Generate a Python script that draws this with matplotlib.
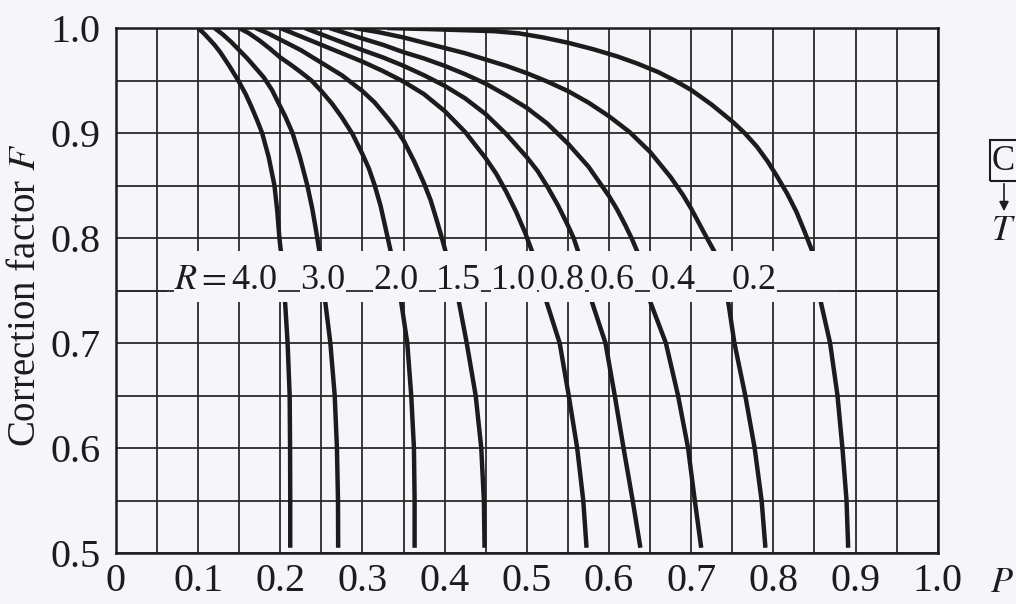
import numpy as np
import matplotlib.pyplot as plt
from matplotlib.patches import Rectangle

plt.rcParams['font.family'] = ['Liberation Serif', 'DejaVu Serif']
plt.rcParams['mathtext.fontset'] = 'stix'

# Curvas (P, F) para cada R
r_labels = ["$R=$4.0", "3.0", "2.0", "1.5", "1.0", "0.8", "0.6", "0.4", "0.2"]
label_pos = [0.197, 0.252, 0.341, 0.417, 0.484, 0.543, 0.604, 0.678, 0.777]

p_r40 = [0.100, 0.107, 0.113, 0.120, 0.127, 0.138, 0.149, 0.158, 0.165, 0.172, 0.178, 0.186, 0.193, 0.1965, 0.199, 0.201,
         0.206, 0.209, 0.2115, 0.212, 0.2122, 0.2122]
f_r40 = [1.000, 0.995, 0.990, 0.984, 0.977, 0.964, 0.950, 0.937, 0.925, 0.912, 0.900, 0.877, 0.850, 0.825, 0.800, 0.786,
         0.738, 0.700, 0.650, 0.600, 0.550, 0.505]

p_r30 = [0.120, 0.130, 0.140, 0.150, 0.160, 0.170, 0.180, 0.190, 0.197, 0.206, 0.215, 0.224, 0.233, 0.239, 0.243, 0.248,
         0.255, 0.261, 0.2663, 0.269, 0.2703, 0.2705]
f_r30 = [1.000, 0.994, 0.987, 0.979, 0.971, 0.962, 0.953, 0.941, 0.930, 0.916, 0.900, 0.877, 0.850, 0.828, 0.810, 0.786,
         0.738, 0.700, 0.650, 0.600, 0.550, 0.505]

p_r20 = [0.150, 0.162, 0.175, 0.188, 0.200, 0.213, 0.225, 0.238, 0.250, 0.263, 0.275, 0.288, 0.300, 0.308, 0.315, 0.322,
         0.328, 0.3348, 0.3474, 0.3546, 0.3594, 0.3627, 0.3635, 0.3635]
f_r20 = [1.000, 0.995, 0.988, 0.980, 0.972, 0.965, 0.958, 0.950, 0.940, 0.928, 0.915, 0.899, 0.880, 0.866, 0.850, 0.831,
         0.810, 0.786, 0.738, 0.700, 0.650, 0.600, 0.550, 0.505]

p_r15 = [0.170, 0.185, 0.200, 0.225, 0.250, 0.275, 0.300, 0.315, 0.330, 0.340, 0.350, 0.363, 0.375, 0.383, 0.390, 0.396,
         0.4016, 0.4177, 0.4269, 0.4378, 0.4446, 0.4478, 0.4486]
f_r15 = [1.000, 0.995, 0.989, 0.979, 0.967, 0.955, 0.940, 0.929, 0.915, 0.905, 0.893, 0.873, 0.852, 0.836, 0.818, 0.802,
         0.786, 0.738, 0.700, 0.650, 0.600, 0.550, 0.505]

p_r10 = [0.200, 0.225, 0.250, 0.275, 0.300, 0.325, 0.350, 0.375, 0.400, 0.425, 0.450, 0.463, 0.475, 0.487, 0.498, 0.507,
         0.5245, 0.540, 0.551, 0.5613, 0.5687, 0.5727]
f_r10 = [1.000, 0.992, 0.984, 0.976, 0.968, 0.959, 0.949, 0.937, 0.921, 0.901, 0.876, 0.861, 0.844, 0.825, 0.805, 0.786,
         0.738, 0.700, 0.650, 0.600, 0.550, 0.505]

p_r08 = [0.230, 0.250, 0.270, 0.300, 0.325, 0.350, 0.375, 0.400, 0.425, 0.450, 0.475, 0.500, 0.513, 0.525, 0.538, 0.550,
         0.557, 0.563, 0.5797, 0.5957, 0.607, 0.6177, 0.6288, 0.6382]
f_r08 = [1.000, 0.994, 0.988, 0.979, 0.972, 0.964, 0.955, 0.945, 0.933, 0.918, 0.899, 0.877, 0.864, 0.849, 0.831, 0.812,
         0.800, 0.786, 0.738, 0.700, 0.650, 0.600, 0.550, 0.505]

p_r06 = [0.260, 0.280, 0.300, 0.325, 0.350, 0.375, 0.400, 0.425, 0.450, 0.475, 0.500, 0.525, 0.550, 0.575, 0.600, 0.610,
         0.620, 0.628, 0.635, 0.6508, 0.6692, 0.684, 0.6962, 0.7044, 0.7122]
f_r06 = [1.000, 0.995, 0.990, 0.984, 0.977, 0.971, 0.964, 0.956, 0.947, 0.936, 0.924, 0.909, 0.890, 0.868, 0.840, 0.827,
         0.812, 0.799, 0.786, 0.738, 0.700, 0.650, 0.600, 0.550, 0.505]

p_r04 = [0.290, 0.320, 0.350, 0.375, 0.400, 0.425, 0.450, 0.475, 0.500, 0.525, 0.550, 0.575, 0.600, 0.625, 0.650, 0.675,
         0.690, 0.700, 0.715, 0.729, 0.7453, 0.7526, 0.7658, 0.7772, 0.7857, 0.7903]
f_r04 = [1.000, 0.996, 0.991, 0.986, 0.981, 0.976, 0.970, 0.964, 0.957, 0.949, 0.940, 0.929, 0.916, 0.901, 0.882, 0.858,
         0.841, 0.828, 0.806, 0.786, 0.738, 0.700, 0.650, 0.600, 0.550, 0.505]

p_r02 = [0.330, 0.380, 0.420, 0.460, 0.490, 0.520, 0.550, 0.580, 0.610, 0.635, 0.660, 0.680, 0.700, 0.725, 0.750, 0.765,
         0.780, 0.793, 0.805, 0.817, 0.828, 0.838, 0.848, 0.858, 0.869, 0.878, 0.884, 0.889, 0.891]
f_r02 = [1.000, 0.999, 0.998, 0.997, 0.995, 0.991, 0.986, 0.980, 0.973, 0.966, 0.958, 0.950, 0.941, 0.927, 0.911, 0.900,
         0.887, 0.873, 0.858, 0.842, 0.825, 0.806, 0.786, 0.738, 0.700, 0.650, 0.600, 0.550, 0.505]

curvas = [(p_r40, f_r40), (p_r30, f_r30), (p_r20, f_r20), (p_r15, f_r15), (p_r10, f_r10),
          (p_r08, f_r08), (p_r06, f_r06), (p_r04, f_r04), (p_r02, f_r02)]

x_ticks = [0, 0.1, 0.2, 0.3, 0.4, 0.5, 0.6, 0.7, 0.8, 0.9, 1.0]
x_ticklabels = ["0", "0.1", "0.2", "0.3", "0.4", "0.5", "0.6", "0.7", "0.8", "0.9", "1.0"]
y_ticks = [0.5, 0.6, 0.7, 0.8, 0.9, 1.0]
y_ticklabels = ["0.5", "0.6", "0.7", "0.8", "0.9", "1.0"]

fondo = '#f6f6fa'
tinta = '#1c1c1c'

fig = plt.figure(figsize=(10.16, 6.04), dpi=100, facecolor=fondo)
ax = fig.add_axes([0.114, 0.0844, 0.809, 0.8692])
ax.set_facecolor(fondo)
ax.set_xlim(0, 1.0)
ax.set_ylim(0.5, 1.0)

# rejilla cada 0.05
ax.set_xticks(x_ticks)
ax.set_xticklabels(x_ticklabels)
ax.set_xticks(np.arange(0.05, 1.0, 0.1), minor=True)
ax.set_yticks(y_ticks)
ax.set_yticklabels(y_ticklabels)
ax.set_yticks(np.arange(0.55, 1.0, 0.1), minor=True)
ax.grid(which='both', color='#2a2a2a', lw=1.3, zorder=1)
ax.set_axisbelow(True)
ax.tick_params(which='both', length=0, labelsize=29, colors=tinta)
ax.tick_params(axis='x', pad=7)
ax.tick_params(axis='y', pad=11)
for s in ax.spines.values():
    s.set_linewidth(1.8)
    s.set_color(tinta)

for p, f in curvas:
    ax.plot(p, f, color=tinta, lw=3.2, solid_capstyle='butt', zorder=2)

# franja de etiquetas
ax.add_patch(Rectangle((0.062, 0.739), 0.818, 0.049, facecolor=fondo, edgecolor='none', zorder=3))
ax.axhline(0.75, color='#2a2a2a', lw=1.3, zorder=4)
for i, (txt, xp) in enumerate(zip(r_labels, label_pos)):
    ax.text(xp, 0.751, txt, ha='right' if i == 0 else 'center', va='baseline',
            fontsize=26, color=tinta, zorder=5,
            bbox=dict(facecolor=fondo, edgecolor='none', pad=0.3))

ax.set_ylabel("Correction factor $F$", fontsize=28, color=tinta)
ax.yaxis.set_label_coords(-0.087, 0.49)
fig.text(990 / 1016, 1 - 583 / 604, "$P$", fontsize=26, ha='left', va='center', color=tinta)

# esquema cortado a la derecha
fig.patches.append(Rectangle((990 / 1016, 1 - 181 / 604), 40 / 1016, 41 / 604, transform=fig.transFigure,
                             facecolor='none', edgecolor=tinta, lw=1.5))
fig.text(992 / 1016, 1 - 161 / 604, "C", fontsize=25, ha='left', va='center', color=tinta)
ax.annotate("", xy=(1004 / 1016, 1 - 214 / 604), xytext=(1004 / 1016, 1 - 181 / 604),
            xycoords='figure fraction', textcoords='figure fraction',
            arrowprops=dict(arrowstyle='-|>', color=tinta, lw=1.2, mutation_scale=14))
fig.text(991 / 1016, 1 - 232 / 604, "$T$", fontsize=26, ha='left', va='center', color=tinta)

fig.savefig("out.png", dpi=100, facecolor=fondo)
